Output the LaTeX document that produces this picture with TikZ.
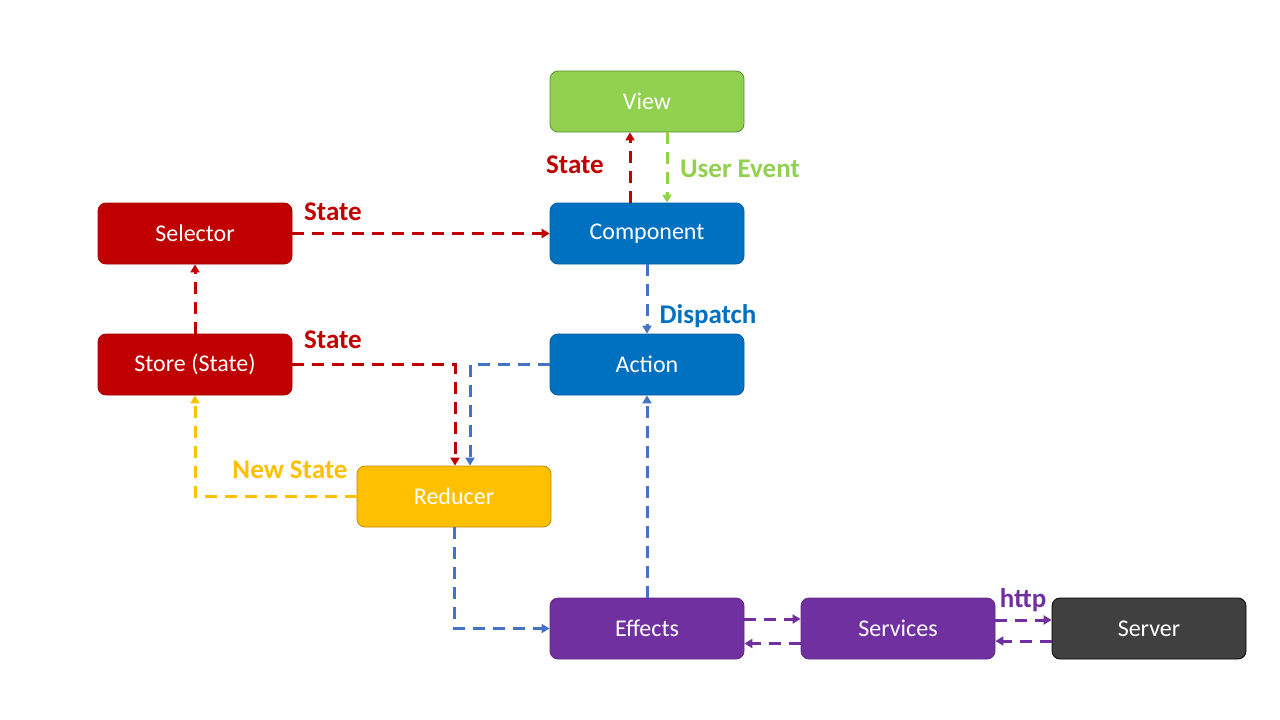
\documentclass[tikz,border=0pt]{standalone}
\usepackage{fontspec}
\setmainfont{Carlito}
\usetikzlibrary{arrows.meta}
\definecolor{cRed}{HTML}{C00000}
\definecolor{cRedB}{HTML}{A50000}
\definecolor{cGreen}{HTML}{92D050}
\definecolor{cGreenB}{HTML}{5E8E32}
\definecolor{cBlue}{HTML}{0070C0}
\definecolor{cBlueB}{HTML}{005EA2}
\definecolor{cLine}{HTML}{4472C4}
\definecolor{cYellow}{HTML}{FFC000}
\definecolor{cYellowB}{HTML}{C08A00}
\definecolor{cPurple}{HTML}{7030A0}
\definecolor{cPurpleB}{HTML}{5E2888}
\definecolor{cGray}{HTML}{404040}
\tikzset{
  box/.style={rounded corners=8pt, minimum width=194pt, minimum height=61pt,
    text=white, font=\fontsize{24}{28}\selectfont, line width=0.8pt, inner sep=0pt},
  conn/.style={line width=3pt, dash pattern=on 12pt off 8pt,
    -{Triangle[length=8pt,width=9pt]}},
  lbl/.style={font=\bfseries\fontsize{27}{31}\selectfont, inner sep=0pt}
}
\begin{document}
\begin{tikzpicture}[x=1pt,y=-1pt]
\useasboundingbox (0,0) rectangle (1280,720);
\node[box, fill=cGreen, draw=cGreenB] (view) at (647,101.5) {View};
\node[box, fill=cBlue, draw=cBlueB] (comp) at (647,233.5) {Component};
\node[box, fill=cRed, draw=cRedB] (sel) at (195,233.5) {Selector};
\node[box, fill=cRed, draw=cRedB] (store) at (195,364.5) {Store (State)};
\node[box, fill=cBlue, draw=cBlueB] (action) at (647,364.5) {Action};
\node[box, fill=cYellow, draw=cYellowB] (red) at (454,496.5) {Reducer};
\node[box, fill=cPurple, draw=cPurpleB] (eff) at (647,628.5) {Effects};
\node[box, fill=cPurple, draw=cPurpleB] (serv) at (898,628.5) {Services};
\node[box, fill=cGray, draw=black] (server) at (1149,628.5) {Server};

% connectors
\draw[conn, cRed] ([xshift=-17pt]comp.north) -- ([xshift=-17pt]view.south);
\draw[conn, cGreen] ([xshift=20pt]view.south) -- ([xshift=20pt]comp.north);
\draw[conn, cRed] (sel.east) -- (comp.west);
\draw[conn, cRed] (store.north) -- (sel.south);
\draw[conn, cRed] (store.east) -| ([xshift=1pt]red.north);
\draw[conn, cLine] (action.west) -| ([xshift=16pt]red.north);
\draw[conn, cLine] (comp.south) -- (action.north);
\draw[conn, cYellow] (red.west) -| (store.south);
\draw[conn, cLine] (red.south) |- (eff.west);
\draw[conn, cLine] (eff.north) -- (action.south);
\draw[conn, cPurple] ([yshift=9.5pt]eff.east) -- ([yshift=9.5pt]serv.west);
\draw[conn, cPurple] ([yshift=-15pt]serv.west) -- ([yshift=-15pt]eff.east);
\draw[conn, cPurple] ([yshift=8.5pt]serv.east) -- ([yshift=8.5pt]server.west);
\draw[conn, cPurple] ([yshift=-12.5pt]server.west) -- ([yshift=-12.5pt]serv.east);

% labels
\node[lbl, text=cRed] (l1) at (575,165) {State};
\node[lbl, text=cGreen] (l2) at (740,169) {User Event};
\node[lbl, text=cRed] (l3) at (333,212) {State};
\node[lbl, text=cRed] (l4) at (333,340) {State};
\node[lbl, text=cBlue] (l5) at (708,316) {Dispatch};
\node[lbl, text=cYellow] (l6) at (290,470) {New State};
\node[lbl, text=cPurple] (l7) at (1023,600) {http};
\end{tikzpicture}
\end{document}
